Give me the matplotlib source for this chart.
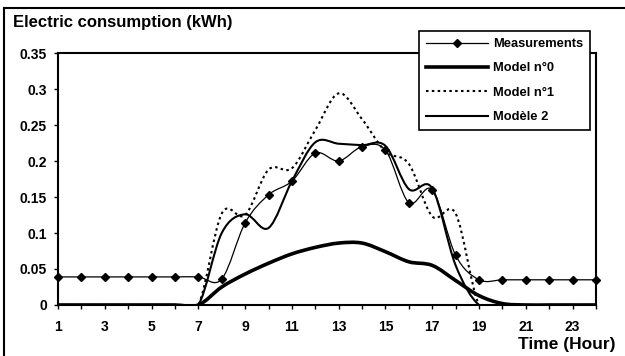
import numpy as np
import matplotlib.pyplot as plt
from matplotlib.path import Path
from matplotlib.patches import PathPatch
from matplotlib.lines import Line2D

plt.rcParams['font.family'] = ['Liberation Sans', 'DejaVu Sans']
plt.rcParams['font.weight'] = 'bold'

# hourly values
hours = list(range(1, 25))
measurements = [0.039, 0.039, 0.039, 0.039, 0.039, 0.039, 0.039, 0.036, 0.114, 0.153,
                0.172, 0.211, 0.200, 0.220, 0.215, 0.142, 0.160, 0.069, 0.035, 0.035,
                0.035, 0.035, 0.035, 0.035]
model0 = [0, 0, 0, 0, 0, 0, 0, 0.025, 0.043, 0.058,
          0.071, 0.080, 0.086, 0.086, 0.074, 0.060, 0.055, 0.034, 0.013, 0.002,
          0, 0, 0, 0]
model1 = [0, 0, 0, 0, 0, 0, 0, 0.127, 0.125, 0.188,
          0.190, 0.243, 0.294, 0.258, 0.213, 0.196, 0.123, 0.127, 0, 0,
          0, 0, 0, 0]
model2 = [0, 0, 0, 0, 0, 0, 0, 0.100, 0.126, 0.107,
          0.172, 0.226, 0.224, 0.222, 0.221, 0.161, 0.162, 0.055, 0, 0,
          0, 0, 0, 0]

labels = ['Measurements', 'Model n°0', 'Model n°1', 'Modèle 2']
xticks = [1, 3, 5, 7, 9, 11, 13, 15, 17, 19, 21, 23]
yticks = [0, 0.05, 0.1, 0.15, 0.2, 0.25, 0.3, 0.35]
yticklabels = ['0', '0.05', '0.1', '0.15', '0.2', '0.25', '0.3', '0.35']


# smoothed line like the spreadsheet "smoothed line" option (bezier through the points)
def smooth_path(x, y):
    n = len(x)
    verts = [(x[0], y[0])]
    codes = [Path.MOVETO]
    for i in range(n - 1):
        a = max(i - 1, 0)
        b = min(i + 2, n - 1)
        c1 = (x[i] + (x[i + 1] - x[a]) / 6, y[i] + (y[i + 1] - y[a]) / 6)
        c2 = (x[i + 1] - (x[b] - x[i]) / 6, y[i + 1] - (y[b] - y[i]) / 6)
        verts += [c1, c2, (x[i + 1], y[i + 1])]
        codes += [Path.CURVE4] * 3
    return Path(verts, codes)


fig = plt.figure(figsize=(6.25, 3.56), dpi=100)
ax = fig.add_axes([58 / 625, 1 - 305 / 356, 538 / 625, 252 / 356])

styles = [
    dict(lw=0.9, ls='-'),
    dict(lw=2.6, ls='-'),
    dict(lw=1.5, ls=(0, (1.2, 1.6))),
    dict(lw=1.5, ls='-'),
]
for vals, st in zip([measurements, model0, model1, model2], styles):
    ax.add_patch(PathPatch(smooth_path(hours, vals), facecolor='none',
                           edgecolor='black', capstyle='butt', **st))
ax.plot(hours, measurements, 'D', color='black', ms=4.5, clip_on=False, zorder=5)

ax.set_xlim(1, 24)
ax.set_ylim(0, 0.35)
ax.set_xticks(xticks)
ax.set_xticks(hours, minor=True)
ax.set_yticks(yticks)
ax.set_yticklabels(yticklabels)
ax.tick_params(axis='both', labelsize=10, length=3, width=1, direction='out', color='black')
ax.tick_params(axis='x', which='minor', length=3, width=1)
ax.tick_params(axis='x', pad=8)
ax.tick_params(axis='y', pad=5)
for lab in ax.get_xticklabels() + ax.get_yticklabels():
    lab.set_fontweight('bold')
for sp in ax.spines.values():
    sp.set_linewidth(1.5)

handles = [
    Line2D([], [], color='black', lw=0.9, marker='D', ms=4.5, markevery=[1]),
    Line2D([], [], color='black', lw=2.6),
    Line2D([], [], color='black', lw=1.5, ls=(0, (1.2, 1.6))),
    Line2D([], [], color='black', lw=1.5),
]
for h in handles:
    h.set_data([0, 0.5, 1], [0, 0, 0])
leg = fig.legend(handles, labels, loc='upper left', bbox_to_anchor=(419 / 625, 1 - 31 / 356),
                 bbox_transform=fig.transFigure, fancybox=False, framealpha=1,
                 edgecolor='black', fontsize=9.3, handlelength=4.8, handletextpad=0.35,
                 labelspacing=0.95, borderpad=0.55, borderaxespad=0)
leg.get_frame().set_linewidth(1.2)
for t in leg.get_texts():
    t.set_fontweight('bold')

fig.text(13 / 625, 1 - 23 / 356, 'Electric consumption (kWh)', fontsize=12,
         fontweight='bold', va='center', ha='left')
fig.text(615 / 625, 1 - 344 / 356, 'Time (Hour)', fontsize=12.5,
         fontweight='bold', va='center', ha='right')

# outer frame (left and top edges visible)
fig.add_artist(Line2D([4 / 625, 4 / 625], [0, 1 - 8 / 356], color='black', lw=1.5,
                      transform=fig.transFigure))
fig.add_artist(Line2D([4 / 625, 1], [1 - 8 / 356, 1 - 8 / 356], color='black', lw=1.5,
                      transform=fig.transFigure))

fig.savefig('out.png', dpi=100)
